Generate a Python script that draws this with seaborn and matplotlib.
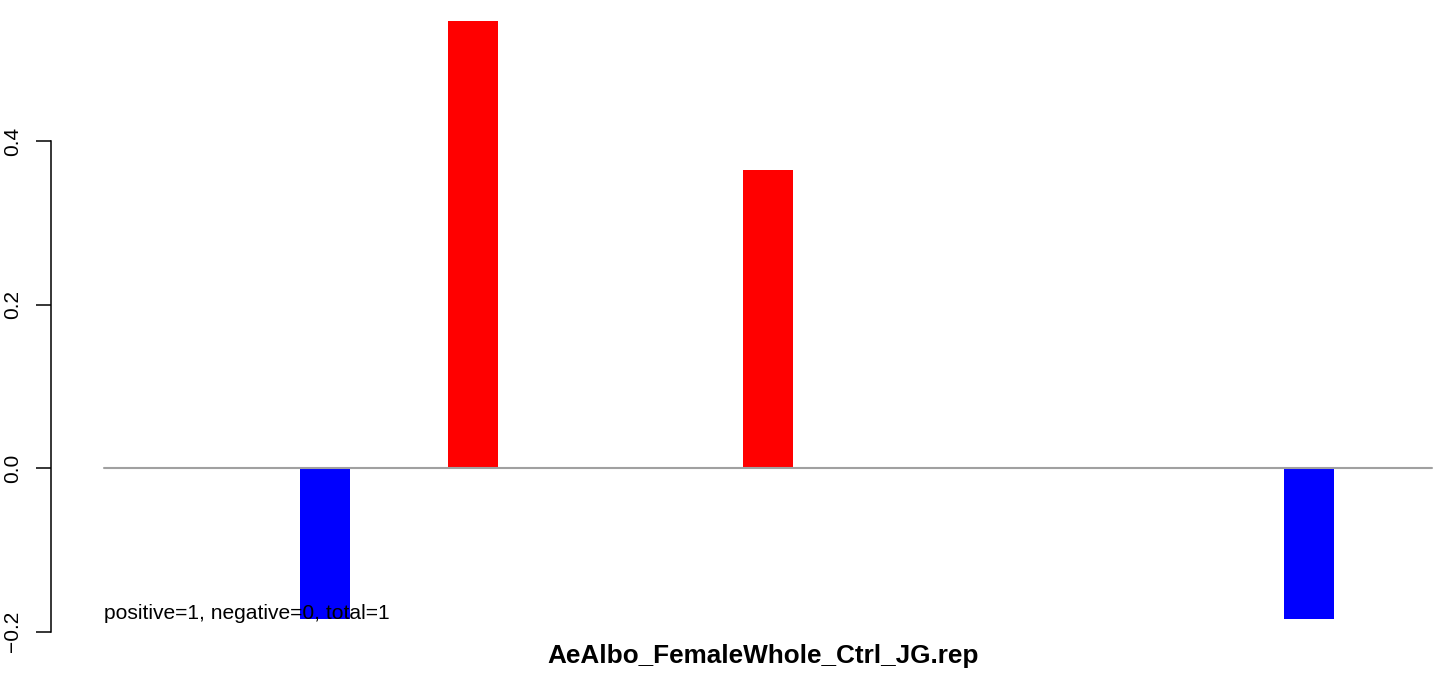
import numpy as np
import pandas as pd
import seaborn as sns
import matplotlib
matplotlib.use("Agg")
import matplotlib.pyplot as plt

# dados
posicoes = [9, 15, 27, 49]
valores = [-0.185, 0.547, 0.3645, -0.185]
linha_x = [0, 54]
y_ticks = [-0.2, 0.0, 0.2, 0.4]
titulo = "AeAlbo_FemaleWhole_Ctrl_JG.rep"
legenda = "positive=1, negative=0, total=1"

df = pd.DataFrame({"pos": posicoes, "val": valores})
df["sinal"] = np.where(df["val"] > 0, "pos", "neg")

sns.set_style("white")
plt.rcParams["font.family"] = ["Liberation Sans", "DejaVu Sans"]
plt.rcParams["text.color"] = "black"
plt.rcParams["ytick.color"] = "black"
plt.rcParams["ytick.labelcolor"] = "black"

W, H = 1455, 677
fig = plt.figure(figsize=(W / 100, H / 100), dpi=100)

# eixo: borda esquerda em x=51px, ocupa a altura toda
ax = fig.add_axes([51 / W, 0, 1 - 51 / W, 1])
unit = 24.6
x0 = 103.6
ax.set_xlim((51 - x0) / unit, (W - x0) / unit)
ppu = 817.5
ax.set_ylim(-(H - 468) / ppu, 468 / ppu)

sns.barplot(data=df, x="pos", y="val", hue="sinal", native_scale=True,
            palette={"pos": "#FF0000", "neg": "#0000FF"}, dodge=False,
            width=2.03 / 6, saturation=1, linewidth=0, legend=False, ax=ax)

ax.plot(linha_x, [0, 0], color="#A0A0A0", lw=1.5, zorder=5)

for s in ["top", "right", "bottom"]:
    ax.spines[s].set_visible(False)
ax.spines["left"].set_bounds(-0.2, 0.4)
ax.spines["left"].set_linewidth(1.1)
ax.spines["left"].set_color("black")
ax.set_xticks([])
ax.set_yticks(y_ticks)
ax.set_yticklabels(["\u22120.2", "0.0", "0.2", "0.4"], rotation=90, va="center",
                   fontsize=15, color="black")
ax.tick_params(axis="y", direction="out", length=11, width=1.1, pad=10, left=True,
               colors="black")
ax.set_xlabel("")
ax.set_ylabel("")

ax.text(0, -0.1847, legenda, ha="left", va="baseline", fontsize=15.1, color="black")
fig.text(763 / W, 1 - 663 / H, titulo, ha="center", va="baseline",
         fontsize=18.8, fontweight="bold", color="black")

fig.savefig("out.png", dpi=100)
